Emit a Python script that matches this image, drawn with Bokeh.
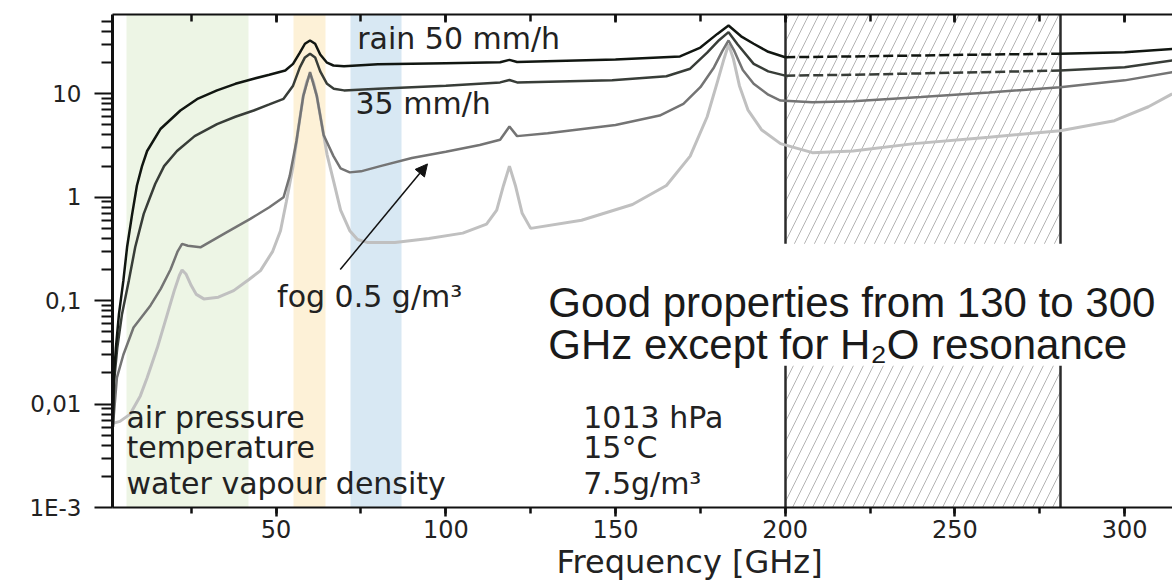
import numpy as np
from bokeh.plotting import figure
from bokeh.models import (Range1d, LinearAxis, FixedTicker, SingleIntervalTicker,
                          CustomJSTickFormatter, Label, Arrow, NormalHead,
                          BoxAnnotation, ColumnDataSource, Title)
from bokeh.embed import file_html
from bokeh.resources import INLINE

# ---------------- data ----------------
# rain 50 mm/h
freq_rain50 = [1.9, 2.2, 2.8, 3.7, 5.0, 6.1, 7.6, 9.0, 10.5, 12, 16, 21.8, 27, 32.6, 38, 43.4,
               48, 52.7, 55, 57, 58.5, 60, 61.5, 63, 65, 66.9, 70, 80, 100, 116, 118.75,
               121, 150, 169, 175, 180, 183.3, 187, 190.7, 195, 200, 220, 240, 260, 281,
               300, 314]
att_rain50 = [0.006, 0.018, 0.035, 0.074, 0.156, 0.33, 0.69, 1.3, 2.0, 2.8, 4.6, 6.9, 9.0,
              10.8, 12.5, 14, 15.3, 16.8, 19.5, 25, 30.5, 32.8, 30.5, 24, 20, 18.8, 18.5,
              19.3, 19.8, 20.2, 21.3, 20.3, 21.5, 23, 28, 38, 45.8, 36, 30.5, 25.5, 22.6,
              23.0, 23.5, 24, 24.4, 25.3, 27.2]
# rain 35 mm/h
freq_rain35 = [1.9, 2.3, 3.2, 4.6, 6.6, 8.5, 11, 12.5, 14.4, 17, 20.8, 26, 32.6, 38, 43.4, 48,
               52.2, 55, 57, 58.5, 60, 61.5, 63, 65, 67, 70, 80, 100, 116, 118.75, 121, 149,
               165, 172, 177, 180.5, 183.3, 186, 190.7, 195, 200, 220, 250, 281, 300, 314]
att_rain35 = [0.006, 0.017, 0.035, 0.074, 0.156, 0.33, 0.69, 0.93, 1.35, 2.0, 2.8, 3.9, 5.1,
              6.0, 6.9, 7.9, 8.95, 12, 18, 22.5, 24.4, 22.5, 16.5, 12.5, 11.2, 10.8, 11.2,
              12.0, 12.9, 13.6, 12.9, 13.5, 14.8, 17.5, 25, 33, 39.5, 30, 19.5, 16.5, 15.0,
              15.3, 16, 16.8, 18.1, 21]
# fog 0.5 g/m3
freq_fog = [1.9, 3.1, 5, 8, 13, 16, 18.9, 21, 22.3, 24, 27.7, 35, 42.4, 48, 52.2, 54, 56, 58,
            60, 62, 64, 66.9, 69, 71.7, 75, 80.7, 90, 100, 110, 116, 118.75, 121, 130, 150,
            163, 170, 175, 179, 181.5, 183.3, 185, 187.5, 190.7, 195, 198.6, 208, 220, 240,
            260, 281, 300, 314]
att_fog = [0.006, 0.018, 0.03, 0.055, 0.09, 0.13, 0.2, 0.30, 0.354, 0.34, 0.328, 0.45, 0.618,
           0.8, 1.0, 1.6, 3.5, 9.5, 16.2, 9.5, 4.0, 2.5, 1.9, 1.74, 1.78, 2.0, 2.4, 2.75, 3.2,
           3.6, 4.83, 3.9, 4.15, 5.0, 6.17, 8.0, 11.6, 18, 26, 32.8, 26, 17, 12.5, 9.8, 8.6,
           8.3, 8.5, 9.3, 10.3, 11.6, 13.5, 16.2]
# clear air (no rain, no fog)
freq_clear = [1.9, 4, 7, 10, 12, 15, 18, 20, 21.5, 22.3, 23.5, 25, 26.5, 28.7, 33, 37.5, 42,
              45.4, 49, 51.3, 53, 55, 56.5, 58, 59, 60, 61, 62, 63.5, 65, 66.9, 69, 71.7, 74,
              76.8, 85, 95, 105, 112, 115, 117, 118.75, 120.5, 122.5, 125, 140, 155, 165, 172,
              177, 180, 182, 183.3, 184.7, 186.5, 189, 193, 198.6, 208, 220, 238, 260, 281,
              297, 307, 314]
att_clear = [0.0065, 0.0068, 0.008, 0.012, 0.018, 0.035, 0.075, 0.125, 0.175, 0.198, 0.18,
             0.14, 0.115, 0.104, 0.108, 0.125, 0.16, 0.195, 0.3, 0.475, 0.9, 2.0, 4.5, 9.5, 13,
             15.5, 13, 9.5, 5.0, 2.6, 1.45, 0.75, 0.475, 0.39, 0.366, 0.366, 0.40, 0.45, 0.55,
             0.75, 1.3, 2.0, 1.3, 0.7, 0.5, 0.6, 0.85, 1.3, 2.5, 6, 13, 22, 30, 22, 12, 7, 4.5,
             3.3, 2.7, 2.8, 3.3, 3.8, 4.4, 5.5, 7.5, 10]

band_start = [6, 55, 72]
band_end = [42, 64.5, 87]
band_color = ["#edf5e5", "#fdf1d7", "#d8e8f3"]
hatch_start, hatch_end = 200, 281

y_tick_values = [0.001, 0.01, 0.1, 1, 10]
y_tick_labels = ["1E-3", "0,01", "0,1", "1", "10"]

# ---------------- figure ----------------
p = figure(width=1172, height=583, x_range=Range1d(1.8, 314.1),
           y_range=Range1d(0.001, 58.5), y_axis_type="log",
           output_backend="svg", toolbar_location=None,
           min_border_left=112, min_border_right=0, min_border_top=14,
           min_border_bottom=76)
p.outline_line_color = None
p.grid.visible = False
p.background_fill_color = "white"
p.border_fill_color = "white"

# colour bands
bands = ColumnDataSource(dict(x0=band_start, x1=band_end, c=band_color))
p.vstrip(x0="x0", x1="x1", fill_color="c", line_color=None, source=bands)

# hatched region 200-281 GHz
p.vstrip(x0=[hatch_start], x1=[hatch_end], fill_color=None, fill_alpha=0,
         hatch_pattern="/", hatch_color="#b4b4b4", hatch_scale=20, hatch_weight=1,
         line_color="#2b2b2b", line_width=2.5)

# curves
def draw(freq, att, color, width, dashed_in_hatch=False):
    f = np.array(freq, dtype=float)
    a = np.array(att, dtype=float)
    if not dashed_in_hatch:
        p.line(f, a, line_color=color, line_width=width)
        return
    m1 = f <= hatch_start
    m2 = (f >= hatch_start) & (f <= hatch_end)
    m3 = f >= hatch_end
    p.line(f[m1], a[m1], line_color=color, line_width=width)
    p.line(f[m2], a[m2], line_color=color, line_width=width, line_dash="10 4")
    p.line(f[m3], a[m3], line_color=color, line_width=width)

draw(freq_clear, att_clear, "#c0c0c0", 3)
draw(freq_fog, att_fog, "#747474", 2.5)
draw(freq_rain35, att_rain35, "#383d38", 2.5, dashed_in_hatch=True)
draw(freq_rain50, att_rain50, "#111611", 2.5, dashed_in_hatch=True)

# white box behind the statement
p.add_layout(BoxAnnotation(left=128, bottom=0.0235, top=0.356, fill_color="white",
                           fill_alpha=1, line_color=None))

# ---------------- axes ----------------
xa = p.xaxis[0]
xa.ticker = SingleIntervalTicker(interval=50, num_minor_ticks=2)
xa.axis_line_width = 2
xa.axis_line_color = "#111111"
xa.major_tick_line_color = "#111111"
xa.minor_tick_line_color = "#111111"
xa.major_tick_line_width = 2.5
xa.minor_tick_line_width = 2.5
xa.major_tick_in = 0
xa.major_tick_out = 9
xa.minor_tick_in = 0
xa.minor_tick_out = 6
xa.major_label_text_font = "DejaVu Sans"
xa.major_label_text_font_size = "24px"
xa.major_label_text_color = "#222222"
xa.major_label_standoff = 3

top = LinearAxis(ticker=SingleIntervalTicker(interval=50, num_minor_ticks=2))
top.axis_line_width = 2
top.axis_line_color = "#111111"
top.major_tick_line_width = 2.5
top.minor_tick_line_width = 2.5
top.major_tick_line_color = "#111111"
top.minor_tick_line_color = "#111111"
top.major_tick_in = 8
top.major_tick_out = 0
top.minor_tick_in = 7
top.minor_tick_out = 0
top.major_label_text_font_size = "1px"
top.major_label_text_color = None
top.major_label_standoff = 0
p.add_layout(top, "above")

ya = p.yaxis[0]
ya.ticker = FixedTicker(ticks=y_tick_values,
                        minor_ticks=[m * 10.0 ** k for k in range(-3, 2) for m in range(2, 10)])
ya.formatter = CustomJSTickFormatter(args=dict(vals=y_tick_values, labs=y_tick_labels), code="""
    for (let i = 0; i < vals.length; i++) {
        if (Math.abs(Math.log10(tick) - Math.log10(vals[i])) < 1e-6) { return labs[i]; }
    }
    return "";
""")
ya.axis_line_width = 3
ya.axis_line_color = "#111111"
ya.major_tick_line_color = "#111111"
ya.minor_tick_line_color = "#111111"
ya.major_tick_line_width = 2
ya.minor_tick_line_width = 2
ya.major_tick_in = 0
ya.major_tick_out = 18
ya.minor_tick_in = 0
ya.minor_tick_out = 11
ya.major_label_text_font = "DejaVu Sans"
ya.major_label_text_font_size = "23px"
ya.major_label_text_color = "#222222"
ya.major_label_standoff = 13

# x-axis title, placed to the right of the frame centre as in the original crop
p.add_layout(Title(text="Frequency [GHz]", align="left", offset=444,
                   text_font="DejaVu Sans", text_font_size="32px",
                   text_font_style="normal", text_color="#222222", standoff=0), "below")

# ---------------- annotations ----------------
txt = dict(text_font="DejaVu Sans", text_font_size="30px", text_color="#222222",
           text_baseline="alphabetic")
p.add_layout(Label(x=73.9, y=34.3, text="rain 50 mm/h", **txt))
p.add_layout(Label(x=73.4, y=8.05, text="35 mm/h", **txt))
p.add_layout(Label(x=50.3, y=0.109, text="fog 0.5 g/m³", **txt))

p.add_layout(Label(x=5.9, y=0.00738, text="air pressure", **txt))
p.add_layout(Label(x=5.9, y=0.00378, text="temperature", **txt))
p.add_layout(Label(x=5.9, y=0.00169, text="water vapour density", **txt))
p.add_layout(Label(x=140.5, y=0.00738, text="1013 hPa", **txt))
p.add_layout(Label(x=140.5, y=0.00378, text="15°C", **txt))
p.add_layout(Label(x=140.5, y=0.00169, text="7.5g/m³", **txt))

big = dict(text_font="Liberation Sans", text_font_size="42px", text_color="#1a1a1a",
           text_baseline="alphabetic")
p.add_layout(Label(x=130.2, y=0.0957, text="Good properties from 130 to 300", **big))
p.add_layout(Label(x=130.2, y=0.0375, text="GHz except for H₂O resonance", **big))

p.add_layout(Arrow(end=NormalHead(size=12, fill_color="#111111", line_color="#111111"),
                   x_start=68.9, y_start=0.2, x_end=94.6, y_end=2.1,
                   line_width=1.5, line_color="#111111"))

open("out.html", "w").write(file_html(p, INLINE))
